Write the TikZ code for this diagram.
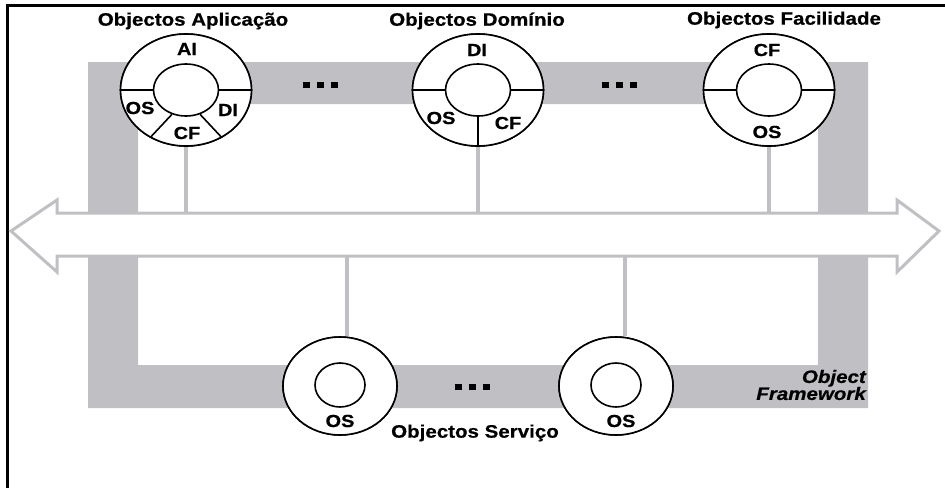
\documentclass[tikz,border=0pt]{standalone}
\usepackage{fontspec}
\setmainfont{Liberation Sans}
\newfontfamily\lab[FakeStretch=1.14,FakeBold=0.6]{Liberation Sans}
\usetikzlibrary{shapes.geometric}
\definecolor{band}{RGB}{192,191,195}
\begin{document}
\begin{tikzpicture}[x=1pt,y=-1pt,
  outer/.style={ellipse, draw=black, line width=1.6pt, fill=white, minimum width=131pt, minimum height=112pt, inner sep=0pt},
  inner/.style={ellipse, draw=black, line width=1.6pt, fill=white, minimum width=65pt, minimum height=52pt, inner sep=0pt},
  souter/.style={ellipse, draw=black, line width=1.6pt, fill=white, minimum width=114pt, minimum height=98pt, inner sep=0pt},
  sinner/.style={ellipse, draw=black, line width=1.6pt, fill=white, minimum width=50pt, minimum height=44pt, inner sep=0pt},
  div/.style={draw=black, line width=1.6pt},
  lbl/.style={font=\fontsize{17.5}{17.5}\selectfont\bfseries\lab, inner sep=0pt},
  ttl/.style={font=\fontsize{18}{18}\selectfont\bfseries\lab, inner sep=0pt},
  conn/.style={draw=band, line width=3.5pt},
  dotsq/.style={fill=black, minimum width=7pt, minimum height=6pt, inner sep=0pt, draw=none},
  bigarrow/.style={draw=band, line width=3pt, fill=white, line join=miter}]
\useasboundingbox (0,0) rectangle (945,488);
% border
\draw[black, line width=3pt] (7,488) -- (7,5.5) -- (945,5.5);
% gray framework band
\fill[band, even odd rule] (88,62) rectangle (868,408) (138,104) rectangle (818,365);
% shaft reference coordinates
\coordinate (stop) at (0,213);
\coordinate (sbot) at (0,256);
% circles (top)
\node[outer] (A) at (186,90) {};
\node[inner] (Ai) at (186,90) {};
\node[outer] (D) at (478,90) {};
\node[inner] (Di) at (478,90) {};
\node[outer] (F) at (769,90) {};
\node[inner] (Fi) at (769,90) {};
% circles (bottom)
\node[souter] (S1) at (340,386) {};
\node[sinner] (S1i) at (340,385) {};
\node[souter] (S2) at (616,386) {};
\node[sinner] (S2i) at (616,385) {};
% connectors
\draw[conn] (A.south) -- (A.south |- stop);
\draw[conn] (D.south) -- (D.south |- stop);
\draw[conn] (F.south) -- (F.south |- stop);
\draw[conn] (S1.north -| 347,0) -- (347,256);
\draw[conn] (S2.north -| 625,0) -- (625,256);
% double arrow
\draw[bigarrow] (57,213) -- (897,213) -- (897,200) -- (939,231) -- (897,272) -- (897,256)
  -- (57,256) -- (57,272) -- (11,231) -- (57,200) -- cycle;
% redraw circles on top of connectors
\node[outer] at (A) {};
\node[inner] at (Ai) {};
\node[outer] at (D) {};
\node[inner] at (Di) {};
\node[outer] at (F) {};
\node[inner] at (Fi) {};
\node[souter] at (S1) {};
\node[sinner] at (S1i) {};
\node[souter] at (S2) {};
\node[sinner] at (S2i) {};
% dividers
\draw[div] (A.west) -- (Ai.west);
\draw[div] (A.east) -- (Ai.east);
\draw[div] (Ai.240) -- (A.233);
\draw[div] (Ai.300) -- (A.307);
\draw[div] (D.west) -- (Di.west);
\draw[div] (D.east) -- (Di.east);
\draw[div] (Di.south) -- (D.south);
\draw[div] (F.west) -- (Fi.west);
\draw[div] (F.east) -- (Fi.east);
% labels in circles
\node[lbl] (lAI) at (187,49) {AI};
\node[lbl] (lAOS) at (140,108) {OS};
\node[lbl] (lADI) at (228,110) {DI};
\node[lbl] (lACF) at (187,133) {CF};
\node[lbl] (lDDI) at (477,50) {DI};
\node[lbl] (lDOS) at (441,118) {OS};
\node[lbl] (lDCF) at (508,123) {CF};
\node[lbl] (lFCF) at (767,50) {CF};
\node[lbl] (lFOS) at (767,132) {OS};
\node[lbl] (lS1) at (340,421) {OS};
\node[lbl] (lS2) at (621,421) {OS};
% titles
\node[ttl] (tA) at (193,21) {Objectos Aplicação};
\node[ttl] (tD) at (477,21) {Objectos Domínio};
\node[ttl] (tF) at (784,20) {Objectos Facilidade};
\node[ttl] (tS) at (475,433) {Objectos Serviço};
\node[font=\fontsize{18}{18}\selectfont\bfseries\itshape\lab, inner sep=0pt, align=right, anchor=east] (tOF) at (866,385) {Object\\[-1pt]Framework};
% dots
\foreach \cx/\cy in {320/85, 619/85, 472/387} {
  \node[dotsq] at (\cx-14,\cy) {};
  \node[dotsq] at (\cx,\cy) {};
  \node[dotsq] at (\cx+14,\cy) {};
}
\end{tikzpicture}
\end{document}
